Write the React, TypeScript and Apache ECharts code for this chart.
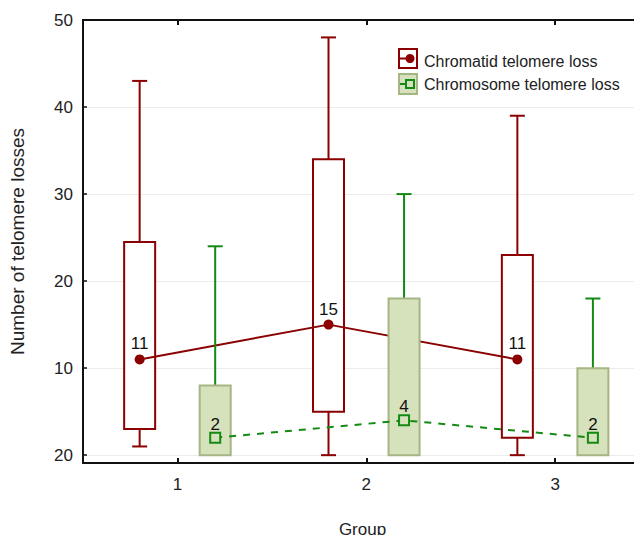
import React, { useEffect, useRef } from "react";
import * as echarts from "echarts";

// ---- data ----
const groups = ["1", "2", "3"];
const groupValues = [1, 2, 3];
const yTickValues = [0, 10, 20, 30, 40, 50];
const yTickLabels = ["20", "10", "20", "30", "40", "50"];

const chromatidMin = [1, 0, 0];
const chromatidQ1 = [3, 5, 2];
const chromatidMedian = [11, 15, 11];
const chromatidQ3 = [24.5, 34, 23];
const chromatidMax = [43, 48, 39];

const chromosomeMin = [0, 0, 0];
const chromosomeQ1 = [0, 0, 0];
const chromosomeMedian = [2, 4, 2];
const chromosomeQ3 = [8, 18, 10];
const chromosomeMax = [24, 30, 18];

const legendNames = ["Chromatid telomere loss", "Chromosome telomere loss"];

// ---- styles ----
const RED = "#8b0000";
const GREEN = "#138a13";
const GREEN_FILL = "#d6e2bb";
const GREEN_EDGE = "#a5b585";
const FONT = "'Liberation Sans', Arial, Helvetica, sans-serif";
const OFFSET = 0.2;

function boxData(offset: number, mn: number[], q1: number[], md: number[], q3: number[], mx: number[]) {
  return groupValues.map((g, i) => [g + offset, mn[i], q1[i], md[i], q3[i], mx[i]]);
}

function makeBoxRender(stroke: string, fill: string, whisker: string) {
  return (params: any, api: any) => {
    const x = api.value(0);
    const lo = api.value(1);
    const q1 = api.value(2);
    const q3 = api.value(4);
    const hi = api.value(5);
    const pLo = api.coord([x, lo]);
    const pQ1 = api.coord([x, q1]);
    const pQ3 = api.coord([x, q3]);
    const pHi = api.coord([x, hi]);
    const w = 31;
    const cap = 15;
    const cx = pQ1[0];
    const children: any[] = [];
    const ls = { stroke: whisker, lineWidth: 2 };
    children.push({ type: "line", shape: { x1: cx, y1: pQ3[1], x2: cx, y2: pHi[1] }, style: ls });
    children.push({ type: "line", shape: { x1: cx - cap / 2, y1: pHi[1], x2: cx + cap / 2, y2: pHi[1] }, style: ls });
    if (lo < q1) {
      children.push({ type: "line", shape: { x1: cx, y1: pQ1[1], x2: cx, y2: pLo[1] }, style: ls });
      children.push({ type: "line", shape: { x1: cx - cap / 2, y1: pLo[1], x2: cx + cap / 2, y2: pLo[1] }, style: ls });
    }
    children.push({
      type: "rect",
      shape: { x: cx - w / 2, y: pQ3[1], width: w, height: pQ1[1] - pQ3[1] },
      style: { fill, stroke, lineWidth: 2 },
    });
    return { type: "group", children };
  };
}

export default function App() {
  const ref = useRef<HTMLDivElement>(null);
  useEffect(() => {
    if (!ref.current) return;
    const chart = echarts.init(ref.current, null, { renderer: "svg" });
    const redBoxes = boxData(-OFFSET, chromatidMin, chromatidQ1, chromatidMedian, chromatidQ3, chromatidMax);
    const greenBoxes = boxData(OFFSET, chromosomeMin, chromosomeQ1, chromosomeMedian, chromosomeQ3, chromosomeMax);
    const axisLine = { show: true, onZero: false, lineStyle: { color: "#111", width: 2 } };
    const xCommon = {
      type: "value",
      min: 0.5,
      max: 3.46,
      axisLine,
      splitLine: { show: false },
    };
    chart.setOption({
      animation: false,
      backgroundColor: "#fff",
      textStyle: { fontFamily: FONT },
      grid: { left: 83, right: 0, top: 20, bottom: 76, containLabel: false },
      xAxis: [
        {
          ...xCommon,
          position: "bottom",
          name: "Group",
          nameLocation: "middle",
          nameGap: 58,
          nameTextStyle: { fontSize: 17, color: "#222", fontFamily: FONT },
          axisTick: { show: true, inside: true, length: 5, customValues: groupValues, lineStyle: { color: "#111", width: 2 } },
          axisLabel: {
            show: true,
            customValues: groupValues,
            margin: 13,
            fontSize: 17,
            color: "#222",
            fontFamily: FONT,
            formatter: (v: number) => groups[groupValues.indexOf(Math.round(v))] ?? "",
          },
        },
        {
          ...xCommon,
          position: "top",
          axisTick: { show: true, inside: true, length: 5, customValues: groupValues, lineStyle: { color: "#111", width: 2 } },
          axisLabel: { show: false },
        },
      ],
      yAxis: {
        type: "value",
        min: -0.9,
        max: 50,
        splitNumber: 5,
        name: "Number of telomere losses",
        nameLocation: "middle",
        nameGap: 56,
        nameTextStyle: { fontSize: 19, color: "#222", fontFamily: FONT },
        axisLine: { show: true, onZero: false, lineStyle: { color: "#111", width: 2 } },
        axisTick: { show: true, inside: true, length: 4, customValues: yTickValues, lineStyle: { color: "#111", width: 1.5 } },
        axisLabel: {
          customValues: yTickValues,
          margin: 10,
          fontSize: 17,
          color: "#222",
          fontFamily: FONT,
          formatter: (v: number) => yTickLabels[yTickValues.indexOf(Math.round(v))] ?? "",
        },
        splitLine: { show: true, lineStyle: { color: "#ececec", width: 1 } },
      },
      series: [
        {
          type: "custom",
          name: legendNames[0],
          z: 2,
          renderItem: makeBoxRender(RED, "#fff", RED),
          encode: { x: 0, y: [1, 2, 3, 4, 5] },
          data: redBoxes,
        },
        {
          type: "line",
          name: legendNames[0] + " median",
          z: 3,
          data: groupValues.map((g, i) => [g - OFFSET, chromatidMedian[i]]),
          symbol: "circle",
          symbolSize: 10,
          itemStyle: { color: RED },
          lineStyle: { color: RED, width: 2 },
          label: { show: true, position: "top", distance: 2, fontSize: 17, color: "#111", fontFamily: FONT, formatter: (p: any) => String(p.value[1]) },
        },
        {
          type: "custom",
          name: legendNames[1],
          z: 4,
          renderItem: makeBoxRender(GREEN_EDGE, GREEN_FILL, GREEN),
          encode: { x: 0, y: [1, 2, 3, 4, 5] },
          data: greenBoxes,
        },
        {
          type: "line",
          name: legendNames[1] + " median",
          z: 5,
          data: groupValues.map((g, i) => [g + OFFSET, chromosomeMedian[i]]),
          symbol: "rect",
          symbolSize: 10,
          itemStyle: { color: GREEN_FILL, borderColor: GREEN, borderWidth: 2 },
          lineStyle: { color: GREEN, width: 2, type: [7, 7] },
          label: { show: true, position: "top", distance: -1, fontSize: 17, color: "#111", fontFamily: FONT, formatter: (p: any) => String(p.value[1]) },
        },
      ],
      graphic: [
        { type: "rect", shape: { x: 399, y: 49, width: 18, height: 19 }, style: { fill: "#fff", stroke: RED, lineWidth: 2 }, z: 10 },
        { type: "line", shape: { x1: 400, y1: 58.5, x2: 408, y2: 58.5 }, style: { stroke: RED, lineWidth: 2 }, z: 10 },
        { type: "circle", shape: { cx: 410, cy: 58.5, r: 4.5 }, style: { fill: RED }, z: 10 },
        { type: "rect", shape: { x: 399, y: 74, width: 18, height: 20 }, style: { fill: GREEN_FILL, stroke: GREEN_EDGE, lineWidth: 2 }, z: 10 },
        { type: "line", shape: { x1: 400, y1: 84, x2: 406, y2: 84 }, style: { stroke: GREEN, lineWidth: 2 }, z: 10 },
        { type: "rect", shape: { x: 406, y: 80, width: 8, height: 8 }, style: { fill: GREEN_FILL, stroke: GREEN, lineWidth: 2 }, z: 10 },
        { type: "text", x: 424, y: 61, style: { text: legendNames[0], fontSize: 16, fill: "#222", fontFamily: FONT, verticalAlign: "middle" }, z: 10 },
        { type: "text", x: 424, y: 84, style: { text: legendNames[1], fontSize: 16, fill: "#222", fontFamily: FONT, verticalAlign: "middle" }, z: 10 },
      ],
    });
    return () => chart.dispose();
  }, []);
  return <div ref={ref} style={{ width: 642, height: 543, margin: -8 }} />;
}
